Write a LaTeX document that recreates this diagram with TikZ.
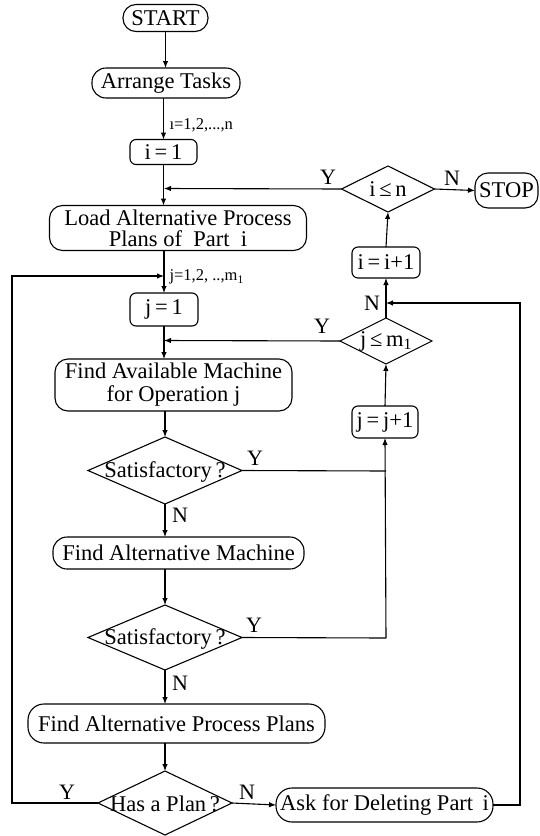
\documentclass[tikz,border=0pt]{standalone}
\usepackage{fontspec}
\setmainfont{Liberation Serif}
\usetikzlibrary{arrows.meta,shapes.geometric}
\begin{document}
\begin{tikzpicture}[x=1pt,y=-1pt,
  font=\fontsize{22.5}{24}\selectfont,
  line width=1.1pt,
  box/.style={draw, rounded corners=#1, inner sep=0pt, outer sep=0pt, align=center},
  box/.default=12pt,
  dia/.style={draw, diamond, inner sep=0pt, outer sep=0pt},
  arr/.style={-{Latex[length=7pt,width=5.5pt]}},
  lbl/.style={font=\fontsize{22}{24}\selectfont, inner sep=0pt},
  small/.style={font=\fontsize{16.5}{18}\selectfont, inner sep=0pt, anchor=west}
]
\useasboundingbox (0,0) rectangle (539,836);

% process boxes
\node[box=13pt, minimum width=85pt,  minimum height=27pt] (start) at (165.5,18) {START};
\node[box=14pt, minimum width=148pt, minimum height=30pt] (arrange) at (166,83) {Arrange Tasks};
\node[box=6pt,  minimum width=67pt,  minimum height=25pt] (i1) at (163.5,152) {i\,=\,1};
\node[box=13pt, minimum width=257pt, minimum height=45pt, font=\fontsize{22.5}{21}\selectfont] (load) at (178,228)
  {Load Alternative Process\\Plans of\ \ Part\ \ i};
\node[box=6pt,  minimum width=68pt,  minimum height=31pt] (inci) at (386,262.5) {i\,=\,i+1};
\node[box=13pt, minimum width=63pt,  minimum height=35pt] (stop) at (506.5,190.5) {STOP};
\node[box=6pt,  minimum width=68pt,  minimum height=33pt] (j1) at (164,309.5) {j\,=\,1};
\node[box=6pt,  minimum width=66pt,  minimum height=32pt] (incj) at (385,422) {j\,=\,j+1};
\node[box=13pt, minimum width=237pt, minimum height=52pt, font=\fontsize{22.5}{23}\selectfont] (avail) at (173.5,385)
  {Find Available Machine\\for Operation j};
\node[box=14pt, minimum width=251pt, minimum height=32pt] (altm) at (178.5,553) {Find Alternative Machine};
\node[box=16pt, minimum width=297pt, minimum height=39pt] (altp) at (176.5,723.5) {Find Alternative Process Plans};
\node[box=16pt, minimum width=217pt, minimum height=34pt] (ask) at (384.5,805) {Ask for Deleting Part\ \,i};

% decisions
\node[dia, minimum width=93pt,  minimum height=46pt] (dn) at (388,189) {};
\node at (dn) {i\,≤\,n};
\node[dia, minimum width=92pt,  minimum height=46pt] (dm) at (386,341) {};
\node at (dm) {j\,≤\,m\textsubscript{1}};
\node[dia, minimum width=154pt, minimum height=67pt] (s1) at (165,470.5) {};
\node at ([yshift=-1pt]s1) {Satisfactory\,?};
\node[dia, minimum width=154pt, minimum height=65pt] (s2) at (165,637.5) {};
\node at ([yshift=-1pt]s2) {Satisfactory\,?};
\node[dia, minimum width=134pt, minimum height=64pt] (plan) at (165,803) {};
\node at ([yshift=-1pt]plan) {Has a Plan\,?};

% junction points
\coordinate (loopI) at (164,188.5);
\coordinate (loopJ) at (164,340.5);
\coordinate (okA) at (386,471);
\coordinate (okB) at (386,638);
\coordinate (leftTop) at (12,276);
\coordinate (leftBot) at (12,803);
\coordinate (rightBot) at (520,805);
\coordinate (rightTop) at (520,303);

% main column
\draw[arr] (start) -- (start.south |- arrange.north);
\draw[arr] (arrange.south -| i1) -- (i1.north);
\draw[arr] (i1.south) -- (i1.south |- load.north);
\draw[arr] (load.south -| j1) -- (j1.north);
\draw[arr] (j1.south) -- (j1.south |- avail.north);
\draw[arr] (avail.south -| s1) -- (s1.north);
\draw[arr] (s1.south) -- (s1.south |- altm.north);
\draw[arr] (altm.south -| s2) -- (s2.north);
\draw[arr] (s2.south) -- (s2.south |- altp.north);
\draw[arr] (altp.south -| plan) -- (plan.north);

% loops
\draw[arr] (dn.west) -- (loopI);
\draw[arr] (dn.east) -- (stop.west);
\draw[arr] (inci.north) -- (dn.south);
\draw[arr] (dm.north) -- (inci.south);
\draw[arr] (dm.west) -- (loopJ);
\draw[arr] (incj.north) -- (dm.south);
\draw (s1.east) -- (okA);
\draw (s2.east) -- (okB);
\draw[arr] (okB) -- (incj.south);
\draw[arr] (plan.east) -- (ask.west);
\draw[arr] (plan.west) -- (leftBot) -- (leftTop) -- (leftTop -| j1);
\draw[arr] (ask.east) -- (rightBot) -- (rightTop) -- (rightTop -| inci);

% labels
\node[small] (lab1) at (169,125) {ı=1,2,...,n};
\node[small] (lab2) at (169,277) {j=1,2, ..,m\textsubscript{1}};
\node[lbl] (y1) at (328,177) {Y};
\node[lbl] (n1) at (452,178) {N};
\node[lbl] (n2) at (372,303) {N};
\node[lbl] (y2) at (322,326) {Y};
\node[lbl] (y3) at (255,458) {Y};
\node[lbl] (n3) at (180,515) {N};
\node[lbl] (y4) at (254,625) {Y};
\node[lbl] (n4) at (180,683) {N};
\node[lbl] (y5) at (67,792) {Y};
\node[lbl] (n5) at (247,792) {N};
\end{tikzpicture}
\end{document}
